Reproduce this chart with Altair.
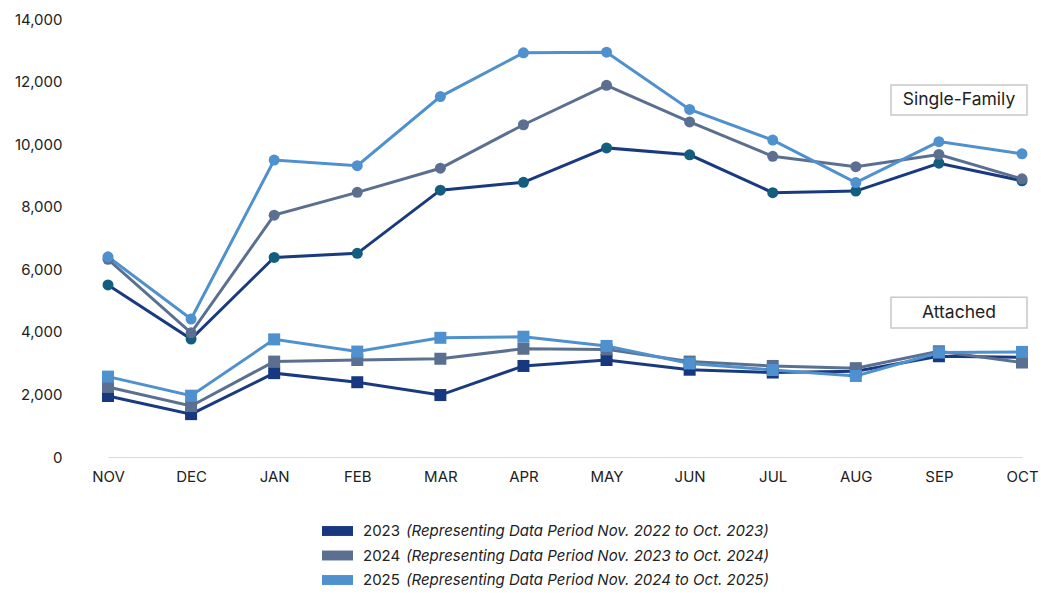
import altair as alt
import pandas as pd

months = ["NOV", "DEC", "JAN", "FEB", "MAR", "APR", "MAY", "JUN", "JUL", "AUG", "SEP", "OCT"]
years = ["2023", "2024", "2025"]
periods = [
    "(Representing Data Period Nov. 2022 to Oct. 2023)",
    "(Representing Data Period Nov. 2023 to Oct. 2024)",
    "(Representing Data Period Nov. 2024 to Oct. 2025)",
]

sf_2023 = [5500, 3770, 6380, 6510, 8530, 8780, 9880, 9660, 8450, 8500, 9390, 8830]
sf_2024 = [6320, 3970, 7730, 8460, 9230, 10620, 11880, 10710, 9610, 9280, 9670, 8890]
sf_2025 = [6400, 4410, 9490, 9310, 11520, 12920, 12940, 11110, 10130, 8770, 10080, 9690]

att_2023 = [1950, 1370, 2680, 2390, 1980, 2910, 3100, 2790, 2700, 2740, 3220, 3190]
att_2024 = [2240, 1630, 3050, 3100, 3140, 3460, 3440, 3050, 2910, 2840, 3380, 3020]
att_2025 = [2570, 1960, 3760, 3370, 3810, 3845, 3550, 2990, 2780, 2590, 3340, 3360]

line_colors = ["#1a3a80", "#5b7090", "#4f90cf"]
circle_colors = ["#135e7e", "#5b7090", "#4f90cf"]
square_colors = ["#17387f", "#5b7090", "#4f90cf"]

rows = []
for yr, per, sf, att in zip(years, periods, [sf_2023, sf_2024, sf_2025], [att_2023, att_2024, att_2025]):
    for m, v in zip(months, sf):
        rows.append({"month": m, "year": yr, "period": per, "type": "Single-Family", "value": v})
    for m, v in zip(months, att):
        rows.append({"month": m, "year": yr, "period": per, "type": "Attached", "value": v})
df = pd.DataFrame(rows)
legend_df = pd.DataFrame({"year": years, "period": periods})

ann_labels = ["Single-Family", "Attached"]
ann_top = [11890, 5110]
ann_bottom = [10930, 4120]
ann_mid = [11410, 4618]
ann = pd.DataFrame({"label": ann_labels, "top": ann_top, "bottom": ann_bottom, "mid": ann_mid})

FONT = "Inter"
W, H = 975, 438
yscale = alt.Scale(domain=[0, 14000], nice=False)
y_axis = alt.Axis(title=None, tickCount=7, format=",.0f", grid=False,
                  domain=False, ticks=False, labelPadding=4, labelFontSize=15,
                  labelColor="#222222", labelFont=FONT)

x_enc = alt.X("month:N", sort=months,
              scale=alt.Scale(type="point", domain=months, range=[42, 956], padding=0),
              axis=alt.Axis(title=None, ticks=False, labelAngle=0, labelPadding=12, domainColor="#d9d9d9",
                            domainWidth=1, labelFontSize=15, labelColor="#222222", labelFont=FONT, grid=False))
y_enc = alt.Y("value:Q", scale=yscale, axis=y_axis)
color_scale = alt.Scale(domain=years, range=square_colors)

base = alt.Chart(df)

lines = base.mark_line(strokeWidth=3).encode(
    x=x_enc, y=y_enc,
    stroke=alt.Stroke("year:N", scale=alt.Scale(domain=years, range=line_colors), legend=None),
    detail="type:N",
)

circles = base.transform_filter(alt.datum.type == "Single-Family").mark_point(
    filled=True, shape="circle", size=121, opacity=1).encode(
    x=x_enc, y=y_enc,
    fill=alt.Fill("year:N", scale=alt.Scale(domain=years, range=circle_colors), legend=None),
)

squares = base.transform_filter(alt.datum.type == "Attached").mark_point(
    filled=True, shape="square", size=144, opacity=1).encode(
    x=x_enc, y=y_enc,
    color=alt.Color("year:N", scale=color_scale, legend=None),
)

boxes = alt.Chart(ann).mark_rect(fill="white", stroke="#c8c8c8", strokeWidth=1.5).encode(
    x=alt.value(825), x2=alt.value(961),
    y=alt.Y("top:Q", scale=yscale, axis=y_axis), y2="bottom:Q",
)
texts = alt.Chart(ann).mark_text(fontSize=17.5, font=FONT, color="#222222").encode(
    x=alt.value(893), y=alt.Y("mid:Q", scale=yscale, axis=y_axis), text="label:N",
)

main = alt.layer(lines, circles, squares, boxes, texts)

# legend drawn below the plot, rows placed by an ordinal y scale
ly = alt.Y("year:N", scale=alt.Scale(type="point", domain=years, range=[512, 561], padding=0), axis=None)
leg_base = alt.Chart(legend_df)
leg_sym = leg_base.mark_point(filled=True, shape="M-1,-0.32H1V0.32H-1Z", size=961, opacity=1).encode(
    x=alt.value(271.5), y=ly,
    color=alt.Color("year:N", scale=color_scale, legend=None),
)
leg_year = leg_base.mark_text(align="left", baseline="middle", fontSize=15, font=FONT, color="#222222").encode(
    x=alt.value(297), y=ly, text="year:N",
)
leg_period = leg_base.mark_text(align="left", baseline="middle", fontSize=15, font=FONT, fontStyle="italic",
                                color="#222222").encode(
    x=alt.value(340), y=ly, text="period:N",
)
legend = alt.layer(leg_sym, leg_year, leg_period)

chart = alt.layer(main, legend).resolve_scale(y="independent").properties(
    width=W, height=H,
    background="white",
    autosize=alt.AutoSizeParams(type="none"),
    padding={"left": 58, "top": 11, "right": 0, "bottom": 131},
).configure_view(stroke=None)

chart.save("out.html", embed_options={"renderer": "svg", "actions": False})
